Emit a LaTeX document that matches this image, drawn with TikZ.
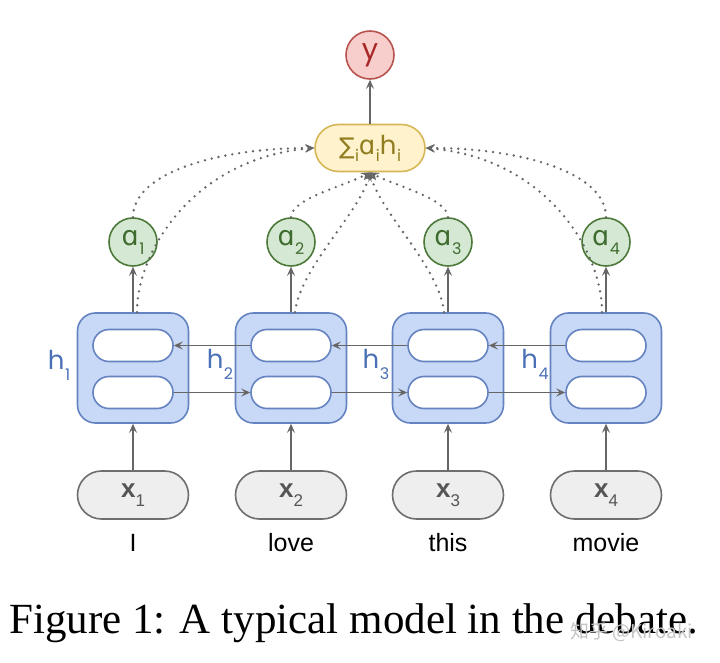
\documentclass[tikz,border=0pt]{standalone}
\usepackage{fontspec}
\setmainfont{Liberation Sans}
\newfontfamily\capfont{Liberation Serif}
\newfontfamily\geofont{Poppins}
\newfontfamily\cjkfont{Noto Sans CJK SC}
\newfontfamily\symfont{DejaVu Sans}
\usetikzlibrary{arrows.meta,shapes.misc}
\definecolor{yfill}{HTML}{F8CECC}
\definecolor{yline}{HTML}{B85450}
\definecolor{ytext}{HTML}{A82828}
\definecolor{sfill}{HTML}{FFF2CC}
\definecolor{sline}{HTML}{D6B656}
\definecolor{stext}{HTML}{8F7D1F}
\definecolor{afill}{HTML}{D5E8D4}
\definecolor{aline}{HTML}{4D7A3A}
\definecolor{atext}{HTML}{3E6B2E}
\definecolor{hfill}{HTML}{C8D8F7}
\definecolor{hline}{HTML}{6483C0}
\definecolor{htext}{HTML}{4A70B5}
\definecolor{xfill}{HTML}{EEEEEE}
\definecolor{xline}{HTML}{6E6E6E}
\definecolor{xtext}{HTML}{555555}
\definecolor{conn}{HTML}{666666}
\definecolor{wm}{HTML}{C4C4C4}
\newcommand\gsub[2]{\kern0.5pt\raisebox{-#1}{\fontsize{16}{16}\selectfont #2}}
\newcommand\alf[1]{{\symfont\fontsize{#1}{#1}\selectfont ɑ}}
\begin{document}
\begin{tikzpicture}[x=1pt,y=-1pt,
  ynode/.style={circle,draw=yline,fill=yfill,line width=1.6pt,minimum size=48pt,inner sep=0pt,text=ytext,font=\geofont\fontsize{29}{29}\selectfont},
  sumnode/.style={rounded rectangle,draw=sline,fill=sfill,line width=1.6pt,minimum width=110pt,minimum height=47pt,inner sep=0pt,text=stext,font=\geofont\fontsize{26}{26}\selectfont},
  anode/.style={circle,draw=aline,fill=afill,line width=1.6pt,minimum size=48pt,inner sep=0pt,text=atext,font=\geofont\fontsize{24}{24}\selectfont},
  hbox/.style={rectangle,rounded corners=18pt,draw=hline,fill=hfill,line width=1.6pt,minimum width=111pt,minimum height=110pt},
  ipill/.style={rounded rectangle,draw=hline,fill=white,line width=1.6pt,minimum width=80pt,minimum height=32pt,inner sep=0pt},
  hlab/.style={anchor=base,text=htext,font=\geofont\fontsize{26}{26}\selectfont},
  xnode/.style={rounded rectangle,draw=xline,fill=xfill,line width=1.6pt,minimum width=111pt,minimum height=48pt,inner sep=0pt,text=xtext},
  word/.style={anchor=base,font=\fontsize{25}{25}\selectfont},
  arr/.style={draw=conn,line width=1.6pt,-{Stealth[length=9pt,width=8pt,inset=3.5pt]}},
  dotc/.style={draw=conn,line width=2.6pt,line cap=round,dash pattern=on 0pt off 7pt,-{Stealth[length=9pt,width=8pt,inset=3.5pt,line width=1pt,fill=conn]}}
]
\useasboundingbox (0,0) rectangle (720,663);
\fill[white] (0,0) rectangle (720,663);

\node[ynode] (y) at (370,55) {y};
\node[sumnode] (s) at (370,148) {{\symfont\fontsize{23}{23}\selectfont ∑}\gsub{7pt}{i}\alf{26}\gsub{7pt}{i}h\gsub{7pt}{i}};

\foreach \i/\xx/\w in {1/133/I,2/291/love,3/448/this,4/606/movie}{
  \node[anode] (a\i) at (\xx,242) {\alf{27}\gsub{9pt}{\i}};
  \node[hbox] (h\i) at (\xx,368) {};
  \node[ipill] (t\i) at (\xx,345.5) {};
  \node[ipill] (b\i) at (\xx,392.5) {};
  \node[xnode] (x\i) at (\xx,495) {\fontsize{26}{26}\selectfont\bfseries x\raisebox{-9pt}{\fontsize{17}{17}\mdseries\selectfont\i}};
  \node[word] (w\i) at (\xx,551) {\w};
}
\node[hlab] (l1) at (59,369) {h\gsub{11pt}{1}};
\node[hlab] (l2) at (220,368) {h\gsub{11pt}{2}};
\node[hlab] (l3) at (376,368) {h\gsub{11pt}{3}};
\node[hlab] (l4) at (535,368) {h\gsub{11pt}{4}};

% vertical arrows
\foreach \i in {1,2,3,4}{
  \draw[arr] (x\i.north) -- (h\i.south);
  \draw[arr] (h\i.north) -- (a\i.south);
}
\draw[arr] (s.north) -- (y.south);

% recurrent arrows
\draw[arr] (t2.west) -- (t1.east);
\draw[arr] (t3.west) -- (t2.east);
\draw[arr] (t4.west) -- (t3.east);
\draw[arr] (b1.east) -- (b2.west);
\draw[arr] (b2.east) -- (b3.west);
\draw[arr] (b3.east) -- (b4.west);

% attention dotted connectors
\draw[dotc] (a1.north) .. controls (133,172) and (220,148) .. (s.west);
\draw[dotc] ([xshift=4pt]h1.north) .. controls (137,250) and (195,158) .. (s.west);
\draw[dotc] (a2.north) .. controls (292,198) and (345,186) .. (s.south);
\draw[dotc] ([xshift=4pt]h2.north) .. controls (300,268) and (360,212) .. (s.south);
\draw[dotc] (a3.north) .. controls (447,198) and (395,186) .. (s.south);
\draw[dotc] ([xshift=-4pt]h3.north) .. controls (440,268) and (380,212) .. (s.south);
\draw[dotc] (a4.north) .. controls (606,172) and (520,148) .. (s.east);
\draw[dotc] ([xshift=-4pt]h4.north) .. controls (602,250) and (545,158) .. (s.east);

% caption
\node[anchor=base west,inner sep=0pt,font=\capfont\fontsize{43}{43}\selectfont] (cap) at (9,633) {Figure 1: A typical model in the debate.};
\node[anchor=base west,inner sep=0pt,text=wm,font=\cjkfont\fontsize{19}{19}\selectfont] (wmk) at (570,638) {知乎 @Kiroaki};
\end{tikzpicture}
\end{document}
